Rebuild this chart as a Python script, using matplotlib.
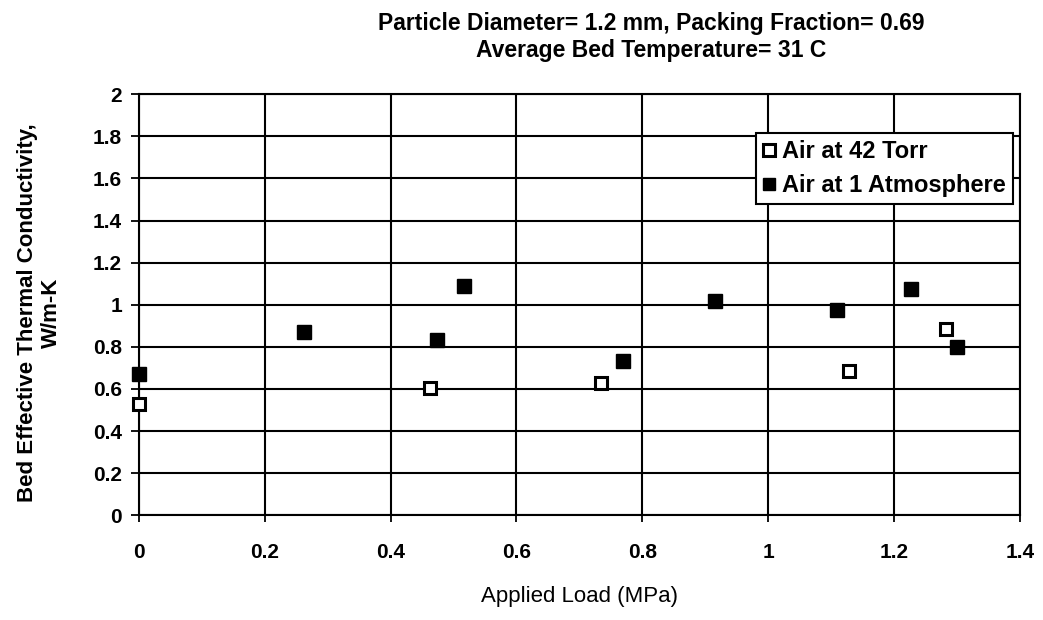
import matplotlib
matplotlib.use("Agg")
import matplotlib.pyplot as plt

plt.rcParams['font.family'] = ['Liberation Sans', 'DejaVu Sans']

# Air at 42 Torr (open squares)
load_torr = [0.0, 0.463, 0.734, 1.128, 1.283]
k_torr = [0.53, 0.605, 0.63, 0.685, 0.885]

# Air at 1 atmosphere (filled squares)
load_atm = [0.0, 0.262, 0.474, 0.517, 0.770, 0.915, 1.110, 1.226, 1.300]
k_atm = [0.67, 0.87, 0.834, 1.09, 0.731, 1.02, 0.976, 1.075, 0.80]

xticks = [0, 0.2, 0.4, 0.6, 0.8, 1.0, 1.2, 1.4]
xtick_labels = ['0', '0.2', '0.4', '0.6', '0.8', '1', '1.2', '1.4']
yticks = [0, 0.2, 0.4, 0.6, 0.8, 1.0, 1.2, 1.4, 1.6, 1.8, 2.0]
ytick_labels = ['0', '0.2', '0.4', '0.6', '0.8', '1', '1.2', '1.4', '1.6', '1.8', '2']

fig = plt.figure(figsize=(10.43, 6.2), dpi=100)
ax = fig.add_axes([0.133, 0.169, 0.845, 0.679])

ax.plot(load_torr, k_torr, linestyle='none', marker='s', markersize=9,
        markerfacecolor='white', markeredgecolor='black', markeredgewidth=2.2,
        label='Air at 42 Torr', clip_on=False, zorder=3)
ax.plot(load_atm, k_atm, linestyle='none', marker='s', markersize=10,
        color='black', label='Air at 1 Atmosphere', clip_on=False, zorder=3)

ax.set_xlim(0, 1.4)
ax.set_ylim(0, 2)
ax.set_xticks(xticks)
ax.set_xticklabels(xtick_labels, fontsize=15, fontweight='bold')
ax.set_yticks(yticks)
ax.set_yticklabels(ytick_labels, fontsize=15, fontweight='bold')
ax.tick_params(axis='x', direction='inout', length=10, width=1.3, pad=15)
ax.tick_params(axis='y', direction='out', length=6, width=1.3, pad=6)
ax.grid(True, color='black', linewidth=1.5)
ax.set_axisbelow(True)
for s in ax.spines.values():
    s.set_linewidth(1.5)
    s.set_color('black')

ax.set_xlabel('Applied Load (MPa)', fontsize=16, labelpad=17)
ax.set_ylabel('Bed Effective Thermal Conductivity,\nW/m-K', fontsize=16,
              fontweight='bold')
ax.yaxis.set_label_coords(-0.087, 0.48)
ax.set_title('Particle Diameter= 1.2 mm, Packing Fraction= 0.69\n'
             'Average Bed Temperature= 31 C', fontsize=16.5, fontweight='bold',
             x=0.581, pad=27)

leg = ax.legend(loc='upper right', bbox_to_anchor=(0.992, 0.907), fontsize=17,
                frameon=True, fancybox=False, framealpha=1, edgecolor='black',
                borderpad=0.3, handlelength=0.5, handletextpad=0.3,
                labelspacing=0.45, borderaxespad=0, markerscale=0.9)
leg.get_frame().set_linewidth(1.5)
for t in leg.get_texts():
    t.set_fontweight('bold')

fig.savefig('out.png', dpi=100)
